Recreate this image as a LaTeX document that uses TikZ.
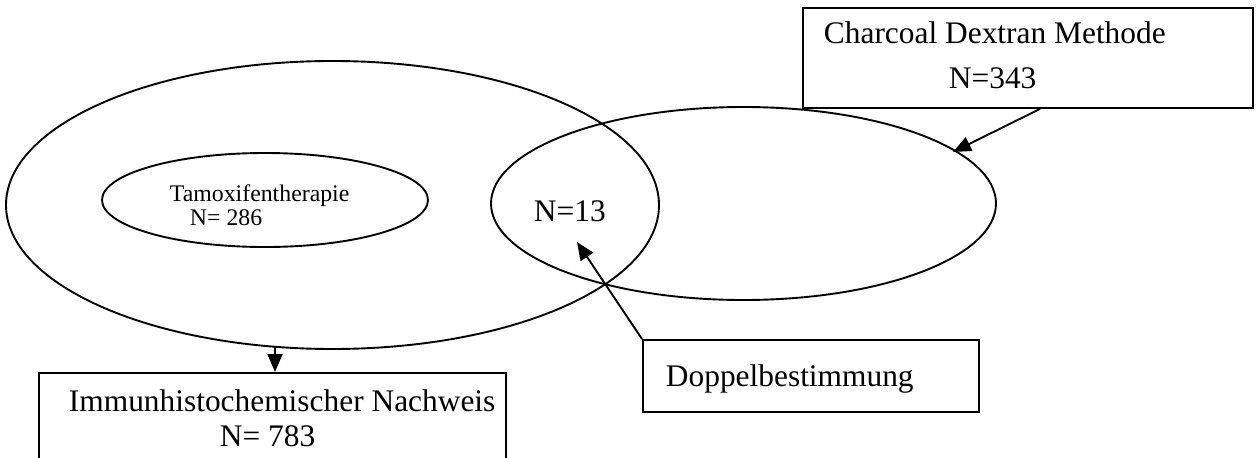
\documentclass[tikz,border=0pt]{standalone}
\usepackage{fontspec}
\setmainfont{Liberation Serif}
\usetikzlibrary{shapes.geometric,arrows.meta}
\begin{document}
\begin{tikzpicture}[x=1pt,y=-1pt,line width=1.9pt,
  ell/.style={draw,ellipse,inner sep=0pt},
  box/.style={draw,rectangle,inner sep=0pt,anchor=north west},
  big/.style={font=\fontsize{31.4}{36}\selectfont,anchor=base west,inner sep=0pt},
  small/.style={font=\fontsize{23.8}{28}\selectfont,anchor=base west,inner sep=0pt},
  arr/.style={-{Triangle[length=18pt,width=15pt]}}]
\clip (0,0) rectangle (1259,458);
% ellipses
\node[ell,minimum width=653pt,minimum height=288pt] (bigE) at (332.5,205) {};
\node[ell,minimum width=326pt,minimum height=94pt] (tamE) at (265,200) {};
\node[ell,minimum width=505pt,minimum height=193pt] (cdE) at (743.5,203.5) {};
% boxes
\node[box,minimum width=450pt,minimum height=100pt] (cdBox) at (802,7) {};
\node[box,minimum width=336pt,minimum height=72pt] (dopBox) at (642,339) {};
\node[box,minimum width=467pt,minimum height=110pt] (ihcBox) at (38,372) {};
% texts
\node[small] (tamT1) at (169,201) {Tamoxifentherapie};
\node[small] (tamT2) at (189,225) {N= 286};
\node[big] (n13) at (533,221) {N=13};
\node[big] (cdT1) at (823,43) {Charcoal Dextran Methode};
\node[big] (cdT2) at (948,88) {N=343};
\node[big] (dopT) at (665,386) {Doppelbestimmung};
\node[big] (ihcT1) at (68,411) {Immunhistochemischer Nachweis};
\node[big] (ihcT2) at (219,446) {N= 783};
% connector ends
\coordinate (ihcTop) at (275,347);
\coordinate (cdFrom) at (1040,107);
\coordinate (cdTip) at (953,152);
\coordinate (dopTip) at (577,242);
% connectors
\draw[arr] (ihcTop) -- (ihcTop |- ihcBox.north);
\draw[arr] (cdBox.south -| cdFrom) -- (cdTip);
\draw[arr] (dopBox.north west) -- (dopTip);
\end{tikzpicture}
\end{document}
